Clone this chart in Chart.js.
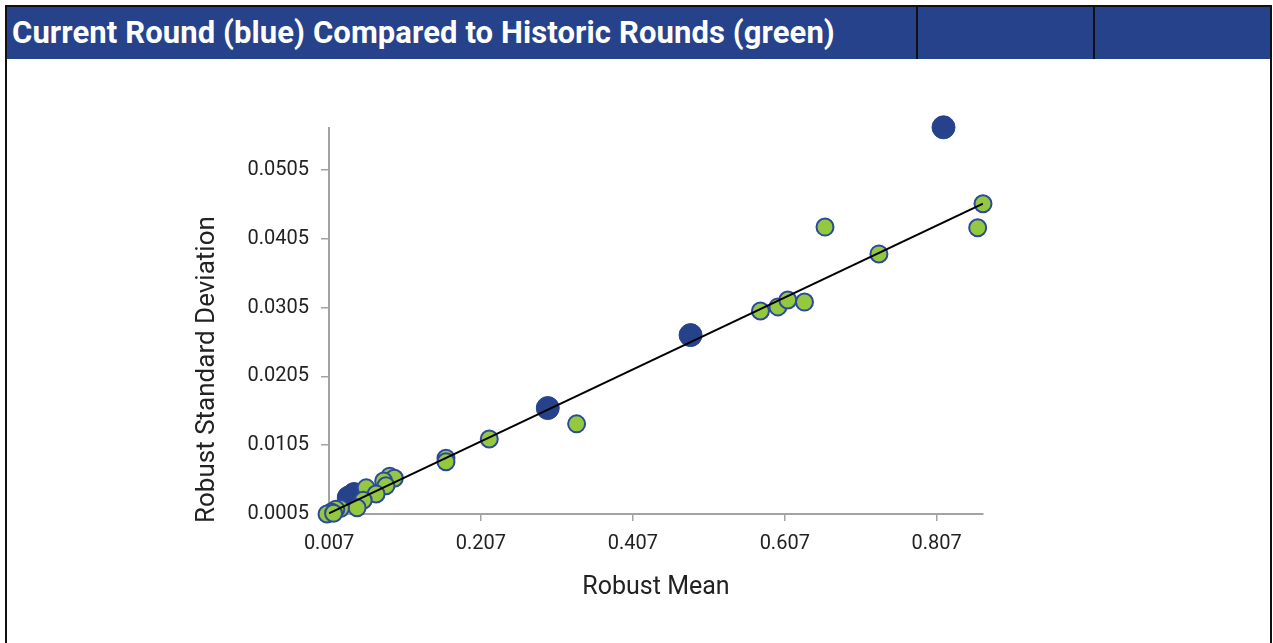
<!DOCTYPE html>
<html>
<head>
<meta charset="utf-8">
<script src="https://cdn.jsdelivr.net/npm/chart.js@4.4.1/dist/chart.umd.min.js"></script>
<style>
  html, body { margin: 0; padding: 0; background: #fff; }
  body { width: 1273px; height: 643px; position: relative; overflow: hidden; font-family: Roboto, sans-serif; }
  #frame { position: absolute; left: 5px; top: 5px; width: 1263px; height: 700px; border: 2px solid #111; box-sizing: content-box; }
  #header { position: absolute; left: 7px; top: 7px; width: 1263px; height: 52px; background: #26428b; color: #fff;
            font-weight: 700; font-size: 31px; line-height: 52px; padding-left: 5px; box-sizing: border-box; letter-spacing: 0.1px; }
  .sep { position: absolute; top: 7px; width: 2px; height: 52px; background: #111; }
  #wrap { position: absolute; left: 0; top: 0; width: 1273px; height: 643px; }
</style>
</head>
<body>
<div id="wrap"><canvas id="chart" width="1273" height="643"></canvas></div>
<div id="frame"></div>
<div id="header">Current Round (blue) Compared to Historic Rounds (green)</div>
<div class="sep" style="left:916px"></div>
<div class="sep" style="left:1093px"></div>
<script>
// current round (blue)
const currentMean = [0.816, 0.483, 0.295, 0.033, 0.040];
const currentSd = [0.0567, 0.0265, 0.0159, 0.0029, 0.0034];

// historic rounds (green)
const historicMean = [0.868, 0.861, 0.660, 0.731, 0.575, 0.598, 0.611, 0.633, 0.333, 0.218, 0.161, 0.161,
    0.087, 0.093, 0.079, 0.082, 0.056, 0.069, 0.052, 0.044, 0.022, 0.016, 0.010, 0.0044, 0.013];
const historicSd = [0.0456, 0.0421, 0.0422, 0.0383, 0.0300, 0.0306, 0.0316, 0.0313, 0.0136, 0.0114, 0.0086, 0.0081,
    0.0060, 0.0057, 0.0053, 0.0046, 0.0043, 0.0034, 0.0025, 0.0014, 0.0013, 0.0012, 0.0008, 0.0005, 0.0006];

// trend line end points
const trendMean = [0.007, 0.868];
const trendSd = [0.0006, 0.0456];

const xTicks = [0.007, 0.207, 0.407, 0.607, 0.807];
const yTicks = [0.0005, 0.0105, 0.0205, 0.0305, 0.0405, 0.0505];

const xTitle = 'Robust Mean';
const yTitle = 'Robust Standard Deviation';

const toPoints = (xs, ys) => xs.map((x, i) => ({ x: x, y: ys[i] }));

const axisGray = '#a3a3a3';
const textColor = '#222';
const tickFont = { family: 'Roboto', size: 20 };

// y title sits a bit low in the original, so draw it by hand
const yTitlePlugin = {
    id: 'yTitle',
    afterDraw(chart) {
        const { ctx, chartArea } = chart;
        ctx.save();
        ctx.translate(chartArea.left - 122, chartArea.bottom + 9);
        ctx.rotate(-Math.PI / 2);
        ctx.font = '26px Roboto';
        ctx.fillStyle = textColor;
        ctx.textAlign = 'left';
        ctx.textBaseline = 'middle';
        ctx.fillText(yTitle, 0, 0);
        ctx.restore();
    }
};

new Chart(document.getElementById('chart'), {
    type: 'scatter',
    data: {
        datasets: [
            {
                type: 'line',
                data: toPoints(trendMean, trendSd),
                borderColor: '#000',
                borderWidth: 2,
                pointRadius: 0,
                fill: false,
                order: 0
            },
            {
                data: toPoints(historicMean, historicSd),
                backgroundColor: '#93c83f',
                borderColor: '#2c4a9c',
                borderWidth: 2,
                pointRadius: 8.5,
                clip: false,
                order: 1
            },
            {
                data: toPoints(currentMean, currentSd),
                backgroundColor: '#26428b',
                borderColor: '#26428b',
                borderWidth: 1,
                pointRadius: 11.5,
                clip: false,
                order: 2
            }
        ]
    },
    options: {
        responsive: false,
        animation: false,
        layout: { padding: { left: 190, top: 128, right: 290, bottom: 40 } },
        plugins: { legend: { display: false }, tooltip: { enabled: false } },
        scales: {
            x: {
                type: 'linear',
                min: 0.007,
                max: 0.868,
                afterBuildTicks: scale => { scale.ticks = xTicks.map(v => ({ value: v })); },
                afterFit: scale => { scale.height = 89; },
                border: { color: axisGray, width: 2 },
                grid: { drawOnChartArea: false, color: axisGray, tickLength: 7, lineWidth: 1.5 },
                ticks: { color: textColor, font: tickFont, padding: 11, maxRotation: 0, callback: v => v.toFixed(3) },
                title: { display: true, text: xTitle, color: textColor, font: { family: 'Roboto', size: 25 }, padding: 0 }
            },
            y: {
                type: 'linear',
                min: 0.0005,
                max: 0.0566,
                afterBuildTicks: scale => { scale.ticks = yTicks.map(v => ({ value: v })); },
                afterFit: scale => { scale.width = 139; },
                border: { color: axisGray, width: 2 },
                grid: { drawOnChartArea: false, color: axisGray, tickLength: 8, lineWidth: 1.5 },
                ticks: { color: textColor, font: tickFont, padding: 12, callback: v => v.toFixed(4) },
                title: { display: false }
            }
        }
    },
    plugins: [yTitlePlugin]
});
</script>
</body>
</html>
